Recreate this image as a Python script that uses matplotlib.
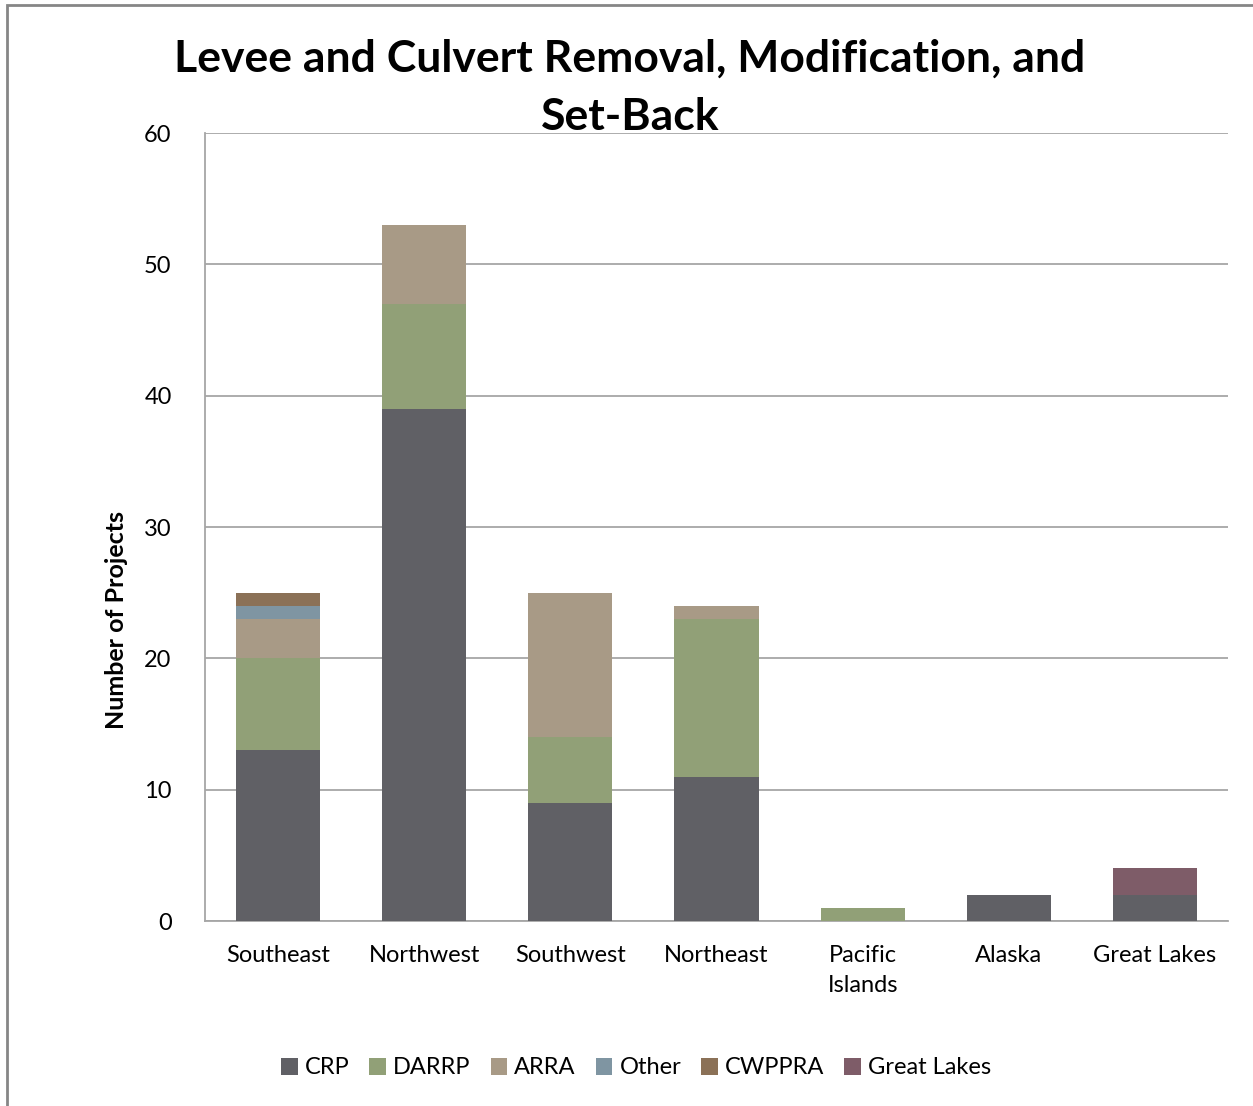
import matplotlib
matplotlib.use("Agg")
import matplotlib.pyplot as plt
import numpy as np

categories = ["Southeast", "Northwest", "Southwest", "Northeast", "Pacific\nIslands", "Alaska", "Great Lakes"]
series_names = ["CRP", "DARRP", "ARRA", "Other", "CWPPRA", "Great Lakes"]
crp = [13, 39, 9, 11, 0, 2, 2]
darrp = [7, 8, 5, 12, 1, 0, 0]
arra = [3, 6, 11, 1, 0, 0, 0]
other = [1, 0, 0, 0, 0, 0, 0]
cwppra = [1, 0, 0, 0, 0, 0, 0]
great_lakes = [0, 0, 0, 0, 0, 0, 2]
colors = ["#606065", "#91A077", "#A89A86", "#7F95A2", "#8B7157", "#7E5C68"]

plt.rcParams['font.family'] = ['Lato', 'DejaVu Sans']

fig = plt.figure(figsize=(12.53, 11.06), dpi=100)
ax = fig.add_axes([205/1253, 1 - 921/1106, (1228-205)/1253, (921-133)/1106])

x = np.arange(len(categories))
bottom = np.zeros(len(categories))
series = [crp, darrp, arra, other, cwppra, great_lakes]
for name, vals, c in zip(series_names, series, colors):
    v = np.array(vals, dtype=float)
    ax.bar(x, v, 0.575, bottom=bottom, color=c, label=name, zorder=3)
    bottom += v

ax.set_xlim(-0.5, len(categories) - 0.5)
ax.set_ylim(0, 60)
ax.set_yticks(range(0, 61, 10))
ax.yaxis.grid(True, color="#a6a6a6", linewidth=1.3, zorder=0)
ax.set_xticks(x)
ax.set_xticklabels(categories, fontsize=17, linespacing=1.55)
ax.tick_params(axis='y', labelsize=17, length=0, pad=24)
ax.tick_params(axis='x', length=0, pad=17)
for s in ["top", "right"]:
    ax.spines[s].set_visible(False)
for s in ["left", "bottom"]:
    ax.spines[s].set_color("#a6a6a6")
    ax.spines[s].set_linewidth(1.3)

fig.text(116/1253, 1 - 620/1106, "Number of Projects", rotation=90, ha="center", va="center",
         fontsize=18, fontweight="bold")

fig.text(630/1253, 1 - 88/1106, "Levee and Culvert Removal, Modification, and\nSet-Back",
         ha="center", va="center", fontsize=32, fontweight="bold", linespacing=1.55)

fig.legend(loc="center", bbox_to_anchor=(636/1253, 1 - 1068/1106), ncol=6, frameon=False,
           fontsize=17, handlelength=0.7, handleheight=0.7, handletextpad=0.3, columnspacing=0.85)

fig.patches.append(plt.Rectangle((7/1253, -0.01), 1.1, 1 - 5/1106 + 0.01, transform=fig.transFigure,
                                 fill=False, edgecolor="#868686", linewidth=2))

fig.savefig("out.png", dpi=100)
